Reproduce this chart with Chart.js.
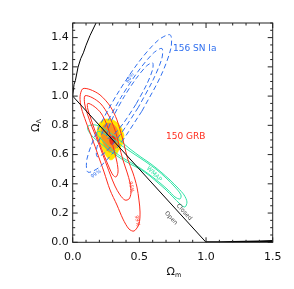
<!DOCTYPE html>
<html>
<head>
<meta charset="utf-8">
<script src="https://cdn.jsdelivr.net/npm/chart.js@4.4.0/dist/chart.umd.min.js"></script>
<style>
  html, body { margin: 0; padding: 0; background: #fff; }
</style>
</head>
<body>
<canvas id="chart" width="294" height="289"></canvas>
<script>
// contour outlines, as [Omega_m, Omega_Lambda]
const snOuter = [[0.519,0.897],[0.352,0.669],[0.203,0.516],[0.114,0.480],[0.107,0.570],[0.184,0.761],[0.326,1.002],[0.493,1.230],[0.641,1.382],[0.731,1.419],[0.737,1.329],[0.661,1.138]];
const snMid = [[0.491,0.921],[0.360,0.741],[0.248,0.618],[0.183,0.586],[0.183,0.654],[0.249,0.802],[0.362,0.991],[0.492,1.171],[0.605,1.294],[0.669,1.326],[0.669,1.259],[0.603,1.111]];
const snInner = [[0.475,0.945],[0.384,0.819],[0.305,0.734],[0.260,0.711],[0.260,0.759],[0.306,0.862],[0.385,0.995],[0.476,1.120],[0.554,1.206],[0.599,1.228],[0.599,1.181],[0.554,1.078]];

const grbOuter = [[0.377,0.700],[0.415,0.563],[0.452,0.474],[0.482,0.378],[0.497,0.289],[0.505,0.207],[0.497,0.125],[0.460,0.077],[0.422,0.091],[0.377,0.159],[0.332,0.255],[0.280,0.358],[0.235,0.481],[0.190,0.597],[0.145,0.713],[0.100,0.823],[0.065,0.919],[0.055,0.995],[0.075,1.050],[0.130,1.045],[0.205,1.008],[0.280,0.932],[0.332,0.837]];
const grbMid = [[0.347,0.666],[0.377,0.563],[0.407,0.481],[0.430,0.406],[0.437,0.337],[0.422,0.296],[0.392,0.289],[0.355,0.324],[0.317,0.385],[0.280,0.467],[0.235,0.577],[0.190,0.686],[0.145,0.789],[0.110,0.878],[0.090,0.946],[0.092,1.002],[0.145,0.990],[0.212,0.946],[0.272,0.864],[0.317,0.768]];
const grbInner = [[0.287,0.713],[0.310,0.631],[0.332,0.549],[0.340,0.481],[0.325,0.447],[0.302,0.460],[0.272,0.515],[0.235,0.597],[0.197,0.686],[0.160,0.782],[0.132,0.857],[0.113,0.912],[0.113,0.950],[0.160,0.930],[0.212,0.884],[0.257,0.802]];

const wmapOuter = [[0.430,0.638],[0.512,0.583],[0.587,0.536],[0.662,0.481],[0.730,0.426],[0.790,0.371],[0.835,0.324],[0.857,0.276],[0.842,0.241],[0.805,0.262],[0.752,0.310],[0.700,0.358],[0.640,0.406],[0.580,0.453],[0.505,0.501],[0.430,0.536],[0.355,0.577],[0.280,0.624],[0.205,0.679],[0.145,0.727],[0.115,0.768],[0.115,0.795],[0.175,0.802],[0.250,0.768],[0.340,0.707]];
const wmapInner = [[0.370,0.659],[0.460,0.604],[0.550,0.549],[0.632,0.495],[0.700,0.440],[0.767,0.378],[0.812,0.324],[0.805,0.296],[0.767,0.310],[0.715,0.358],[0.655,0.406],[0.580,0.460],[0.505,0.508],[0.430,0.549],[0.355,0.590],[0.280,0.645],[0.212,0.707],[0.182,0.741],[0.190,0.761],[0.280,0.720]];

const combOuter = [[0.385,0.734],[0.377,0.679],[0.347,0.631],[0.317,0.583],[0.287,0.563],[0.257,0.583],[0.227,0.631],[0.197,0.693],[0.182,0.754],[0.197,0.809],[0.227,0.837],[0.265,0.843],[0.317,0.830],[0.362,0.789]];
const combMid = [[0.347,0.707],[0.332,0.659],[0.302,0.624],[0.272,0.618],[0.242,0.652],[0.220,0.700],[0.212,0.754],[0.227,0.795],[0.265,0.816],[0.310,0.802],[0.340,0.761]];
const combInner = [[0.322,0.705],[0.308,0.676],[0.290,0.668],[0.278,0.690],[0.280,0.715],[0.298,0.728],[0.315,0.722]];

// boundary lines
const flatM = [0, 1];
const flatL = [1, 0];
const bangM = [0, 0.01, 0.02, 0.04, 0.06, 0.08, 0.10, 0.13, 0.175];
const bangL = [1.0, 1.08, 1.106, 1.198, 1.256, 1.296, 1.348, 1.415, 1.50];
const recolM = [1.0, 1.1, 1.2, 1.3, 1.4, 1.5];
const recolL = [0, 0.0005, 0.002, 0.004, 0.006, 0.009];

const xTickVals = [0, 0.5, 1.0, 1.5];
const yTickVals = [0, 0.2, 0.4, 0.6, 0.8, 1.0, 1.2, 1.4];

const BLUE = '#2f6fef', RED = '#ff2b1c', GREEN = '#2de3a4';

function closed(arr) {
  return arr.concat([arr[0]]).map(p => ({ x: p[0], y: p[1] }));
}
function pairs(xs, ys) {
  return xs.map((v, i) => ({ x: v, y: ys[i] }));
}

function contour(data, color, order, dash) {
  return {
    data: closed(data), borderColor: color, borderWidth: 1, borderDash: dash || [],
    showLine: true, pointRadius: 0, tension: 0.3, fill: false, order: order
  };
}
function blob(data, color, order) {
  return {
    data: closed(data), borderColor: color, backgroundColor: color, borderWidth: 0.5,
    showLine: true, pointRadius: 0, tension: 0.4, fill: 'shape', order: order
  };
}
function curve(xs, ys, width) {
  return {
    data: pairs(xs, ys), borderColor: '#000', borderWidth: width,
    showLine: true, pointRadius: 0, tension: 0, fill: false, order: 0
  };
}

// small text labels placed in data coordinates
const notes = [
  { text: '156 SN Ia', x: 0.752, y: 1.322, rot: 0, color: BLUE, size: 9, align: 'left' },
  { text: '150 GRB', x: 0.700, y: 0.722, rot: 0, color: RED, size: 9, align: 'left' },
  { text: 'Closed', x: 0.836, y: 0.207, rot: 47.6, color: '#444', size: 6, align: 'center' },
  { text: 'Open', x: 0.737, y: 0.166, rot: 47.6, color: '#444', size: 6, align: 'center' },
  { text: 'WMAP', x: 0.610, y: 0.467, rot: 45, color: GREEN, size: 6, align: 'center' },
  { text: '99%', x: 0.483, y: 0.146, rot: 80, color: RED, size: 5, align: 'center' },
  { text: '95%', x: 0.438, y: 0.378, rot: 80, color: RED, size: 5, align: 'center' },
  { text: '99%', x: 0.175, y: 0.467, rot: -35, color: BLUE, size: 5, align: 'center' },
  { text: '68%', x: 0.430, y: 1.124, rot: -58, color: BLUE, size: 5, align: 'center' }
];

const overlay = {
  id: 'overlay',
  afterDatasetsDraw(chart) {
    const ctx = chart.ctx, xs = chart.scales.x, ys = chart.scales.y;
    ctx.save();
    notes.forEach(n => {
      ctx.save();
      ctx.translate(xs.getPixelForValue(n.x), ys.getPixelForValue(n.y));
      ctx.rotate(n.rot * Math.PI / 180);
      ctx.font = n.size + 'px "DejaVu Sans"';
      ctx.fillStyle = n.color;
      ctx.textAlign = n.align;
      ctx.textBaseline = 'middle';
      ctx.fillText(n.text, 0, 0);
      ctx.restore();
    });
    ctx.restore();
  },
  afterDraw(chart) {
    const ctx = chart.ctx, a = chart.chartArea, xs = chart.scales.x, ys = chart.scales.y;
    ctx.save();
    ctx.strokeStyle = '#222';
    ctx.lineWidth = 1;
    ctx.strokeRect(a.left, a.top, a.right - a.left, a.bottom - a.top);
    ctx.beginPath();
    for (let i = 0; i <= 15; i++) {
      const v = i / 10, px = xs.getPixelForValue(v);
      const len = (i % 5 === 0) ? 5 : 2.5;
      ctx.moveTo(px, a.bottom); ctx.lineTo(px, a.bottom - len);
      ctx.moveTo(px, a.top); ctx.lineTo(px, a.top + len);
    }
    for (let i = 0; i <= 30; i++) {
      const v = i / 20, py = ys.getPixelForValue(v);
      const len = (i % 4 === 0) ? 5 : 2.5;
      ctx.moveTo(a.left, py); ctx.lineTo(a.left + len, py);
      ctx.moveTo(a.right, py); ctx.lineTo(a.right - len, py);
    }
    ctx.stroke();

    // axis titles
    ctx.fillStyle = '#111';
    ctx.textAlign = 'left';
    ctx.textBaseline = 'alphabetic';
    ctx.font = '11px "DejaVu Sans"';
    ctx.fillText('\u03a9', 166.5, 275);
    ctx.font = '6.5px "DejaVu Sans"';
    ctx.fillText('m', 175, 277);

    ctx.translate(39, 132);
    ctx.rotate(-Math.PI / 2);
    ctx.font = '11px "DejaVu Sans"';
    ctx.fillText('\u03a9', 0, 0);
    ctx.font = '6.5px "DejaVu Sans"';
    ctx.fillText('\u039b', 8.6, 1.5);
    ctx.restore();
  }
};

Chart.defaults.font.family = '"DejaVu Sans"';

new Chart(document.getElementById('chart').getContext('2d'), {
  type: 'scatter',
  data: {
    datasets: [
      curve(flatM, flatL, 1),
      curve(bangM, bangL, 1),
      curve(recolM, recolL, 2),
      contour(snOuter, BLUE, 1, [5, 3]),
      contour(snMid, BLUE, 1, [5, 3]),
      contour(snInner, BLUE, 1, [5, 3]),
      contour(grbOuter, RED, 2),
      contour(grbMid, RED, 2),
      contour(grbInner, RED, 2),
      contour(wmapOuter, GREEN, 3),
      contour(wmapInner, GREEN, 3),
      blob(combInner, '#e8321e', 4),
      blob(combMid, '#f7941d', 5),
      blob(combOuter, '#ffe600', 6)
    ]
  },
  options: {
    responsive: false,
    animation: false,
    events: [],
    layout: { padding: { top: 23, right: 21.3, left: 0, bottom: 0 } },
    plugins: { legend: { display: false }, tooltip: { enabled: false } },
    scales: {
      x: {
        type: 'linear', min: 0, max: 1.5,
        afterFit: s => { s.height = 46.7; },
        grid: { display: false, drawTicks: false },
        border: { display: false },
        afterBuildTicks: s => { s.ticks = xTickVals.map(v => ({ value: v })); },
        ticks: { padding: 8, color: '#111', font: { size: 11 }, callback: v => v.toFixed(1) }
      },
      y: {
        type: 'linear', min: 0, max: 1.5,
        afterFit: s => { s.width = 72.7; },
        grid: { display: false, drawTicks: false },
        border: { display: false },
        afterBuildTicks: s => { s.ticks = yTickVals.map(v => ({ value: v })); },
        ticks: { padding: 4, color: '#111', font: { size: 11 }, callback: v => v.toFixed(1) }
      }
    }
  },
  plugins: [overlay]
});
</script>
</body>
</html>
